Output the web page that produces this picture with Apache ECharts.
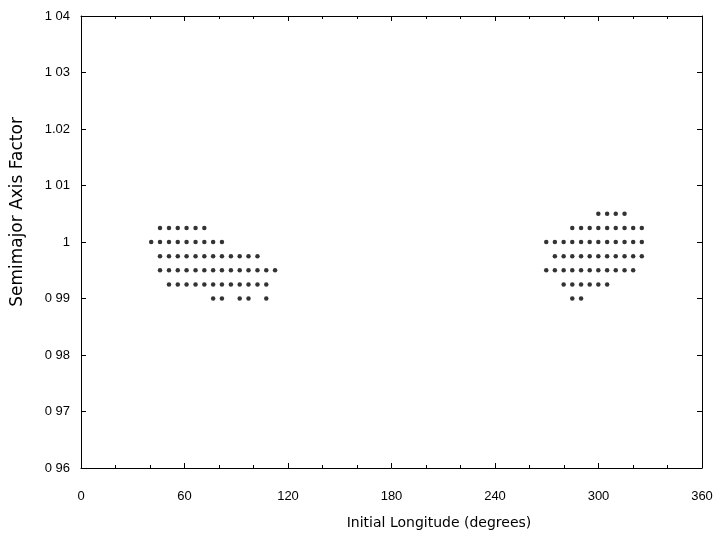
<!DOCTYPE html>
<html>
<head>
<meta charset="utf-8">
<script src="https://cdn.jsdelivr.net/npm/echarts@6/dist/echarts.min.js"></script>
<style>
  html, body { margin: 0; padding: 0; background: #fff; }
  #chart { width: 717px; height: 535px; }
</style>
</head>
<body>
<div id="chart"></div>
<script>
// y tick labels as printed (scan lost some decimal points)
const yTickLabels = ['0 96', '0 97', '0 98', '0 99', '1', '1 01', '1.02', '1 03', '1 04'];

// each row: semimajor axis factor and the initial longitudes that were stable
const rowLevels = [1.005, 1.0025, 1.0, 0.9975, 0.995, 0.9925, 0.99];

const leftRows = [
  [],
  [45.8, 51.0, 56.1, 61.2, 66.4, 71.5],
  [40.7, 45.8, 51.0, 56.1, 61.2, 66.4, 71.5, 76.6, 81.7],
  [45.8, 51.0, 56.1, 61.2, 66.4, 71.5, 76.6, 81.7, 86.9, 92.0, 97.1, 102.3],
  [45.8, 51.0, 56.1, 61.2, 66.4, 71.5, 76.6, 81.7, 86.9, 92.0, 97.1, 102.3, 107.4, 112.5],
  [51.0, 56.1, 61.2, 66.4, 71.5, 76.6, 81.7, 86.9, 92.0, 97.1, 102.3, 107.4],
  [76.6, 81.7, 92.0, 97.1, 107.4]
];

const rightRows = [
  [299.9, 305.0, 310.0, 315.1],
  [284.8, 289.9, 294.9, 299.9, 305.0, 310.0, 315.1, 320.1, 325.1],
  [269.7, 274.7, 279.8, 284.8, 289.9, 294.9, 299.9, 305.0, 310.0, 315.1, 320.1, 325.1],
  [274.7, 279.8, 284.8, 289.9, 294.9, 299.9, 305.0, 310.0, 315.1, 320.1, 325.1],
  [269.7, 274.7, 279.8, 284.8, 289.9, 294.9, 299.9, 305.0, 310.0, 315.1, 320.1],
  [279.8, 284.8, 289.9, 294.9, 299.9, 305.0],
  [284.8, 289.9]
];

const points = [];
rowLevels.forEach((a, i) => {
  leftRows[i].forEach(lon => points.push([lon, a]));
  rightRows[i].forEach(lon => points.push([lon, a]));
});

const font = '"Liberation Sans", Arial, sans-serif';
const nameFont = '"DejaVu Sans", sans-serif';
const chart = echarts.init(document.getElementById('chart'));

const xBase = {
  type: 'value',
  min: 0,
  max: 360,
  interval: 60,
  axisLine: { show: true, onZero: false, lineStyle: { color: '#000', width: 1 } },
  axisTick: { inside: true, length: 5, lineStyle: { color: '#000' } },
  minorTick: { show: true, splitNumber: 3, length: 3, lineStyle: { color: '#000' } },
  splitLine: { show: false }
};
const yBase = {
  type: 'value',
  min: 0.96,
  max: 1.04,
  interval: 0.01,
  axisLine: { show: true, onZero: false, lineStyle: { color: '#000', width: 1 } },
  axisTick: { inside: true, length: 5, lineStyle: { color: '#000' } },
  splitLine: { show: false }
};

chart.setOption({
  animation: false,
  backgroundColor: '#fff',
  grid: { left: 81, right: 15, top: 16, bottom: 67 },
  xAxis: [
    Object.assign({}, xBase, {
      position: 'bottom',
      axisLabel: { color: '#000', fontFamily: font, fontSize: 13, margin: 22 }
    }),
    Object.assign({}, xBase, {
      position: 'top',
      axisLabel: { show: false }
    })
  ],
  yAxis: [
    Object.assign({}, yBase, {
      position: 'left',
      axisLabel: {
        color: '#000',
        fontFamily: font,
        fontSize: 13,
        margin: 11,
        formatter: v => yTickLabels[Math.round((v - 0.96) / 0.01)]
      }
    }),
    Object.assign({}, yBase, {
      position: 'right',
      axisLabel: { show: false }
    })
  ],
  graphic: [{
    type: 'text',
    x: 439,
    y: 523,
    style: {
      text: 'Initial Longitude (degrees)',
      fill: '#000',
      font: '14px ' + nameFont,
      textAlign: 'center',
      textVerticalAlign: 'middle'
    }
  }, {
    type: 'text',
    x: 18,
    y: 212,
    rotation: Math.PI / 2,
    style: {
      text: 'Semimajor Axis Factor',
      fill: '#000',
      font: '17px ' + nameFont,
      textAlign: 'center',
      textVerticalAlign: 'middle'
    }
  }],
  series: [{
    type: 'scatter',
    xAxisIndex: 0,
    yAxisIndex: 0,
    symbol: 'circle',
    symbolSize: 4.5,
    itemStyle: { color: '#000' },
    data: points
  }]
});
</script>
</body>
</html>
